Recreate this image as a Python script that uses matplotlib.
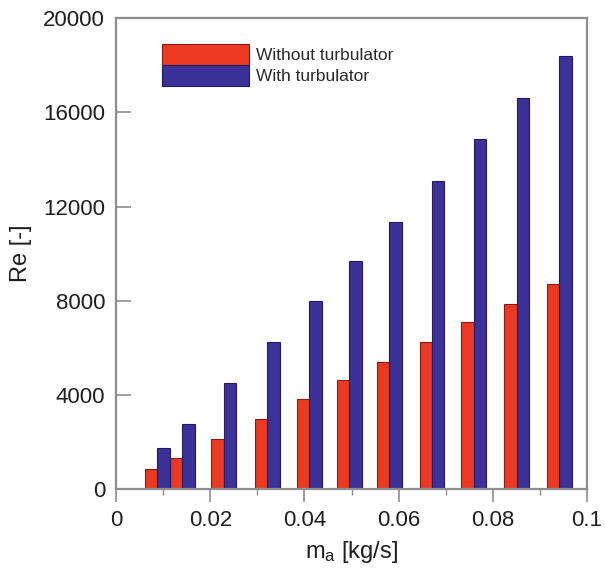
import numpy as np
import matplotlib
matplotlib.use("Agg")
import matplotlib.pyplot as plt
from matplotlib.ticker import MultipleLocator

# mass flow rate [kg/s] and Reynolds numbers
m_a = [0.0087, 0.0140, 0.0229, 0.0321, 0.0410, 0.0495, 0.0580, 0.0671, 0.0760, 0.0851, 0.0941]
re_without = [850, 1310, 2120, 2970, 3810, 4620, 5380, 6230, 7080, 7880, 8730]
re_with = [1740, 2750, 4490, 6230, 7970, 9700, 11360, 13090, 14870, 16610, 18390]
labels = ["Without turbulator", "With turbulator"]
xticks = [0, 0.02, 0.04, 0.06, 0.08, 0.1]
xticklabels = ["0", "0.02", "0.04", "0.06", "0.08", "0.1"]

plt.rcParams['font.family'] = ['Liberation Sans', 'DejaVu Sans']

fig = plt.figure(figsize=(6.05, 5.85), dpi=100)
ax = fig.add_axes([0.192, 0.164, 0.778, 0.805])

w = 0.00265
x = np.array(m_a)
# red bar sits left of each flow rate, blue bar right of it
ax.bar(x, re_without, width=-w, align='edge', color='#ec3a22', edgecolor='#8a1a10',
       linewidth=0.8, label=labels[0], zorder=2)
ax.bar(x, re_with, width=w, align='edge', color='#3c3197', edgecolor='#221a66',
       linewidth=0.8, label=labels[1], zorder=2)

ax.set_xlim(0, 0.1)
ax.set_ylim(0, 20000)
ax.set_xticks(xticks)
ax.set_xticklabels(xticklabels)
ax.xaxis.set_minor_locator(MultipleLocator(0.01))
ax.yaxis.set_major_locator(MultipleLocator(4000))

grey = '#8e8e8e'
for s in ax.spines.values():
    s.set_color(grey)
    s.set_linewidth(1.6)

ax.tick_params(axis='x', which='major', direction='out', length=9, width=1.2,
               colors=grey, labelcolor='#1e1e1e', labelsize=16, pad=6)
ax.tick_params(axis='x', which='minor', direction='out', length=4, width=1.0, colors=grey)
ax.tick_params(axis='y', which='major', direction='in', length=11, width=1.2,
               colors=grey, labelcolor='#1e1e1e', labelsize=16, pad=8)

ax.set_xlabel(r'$\mathregular{m_a}$ [kg/s]', fontsize=17, color='#1e1e1e', labelpad=6)
ax.set_ylabel('Re [-]', fontsize=17, color='#1e1e1e', labelpad=8)

leg = ax.legend(loc='upper left', bbox_to_anchor=(0.082, 0.96), frameon=False,
                fontsize=12.5, handlelength=5.0, handleheight=1.5, handletextpad=0.45,
                labelspacing=0.0, borderaxespad=0)
for t in leg.get_texts():
    t.set_color('#2a2a2a')

fig.savefig("out.png", dpi=100)
